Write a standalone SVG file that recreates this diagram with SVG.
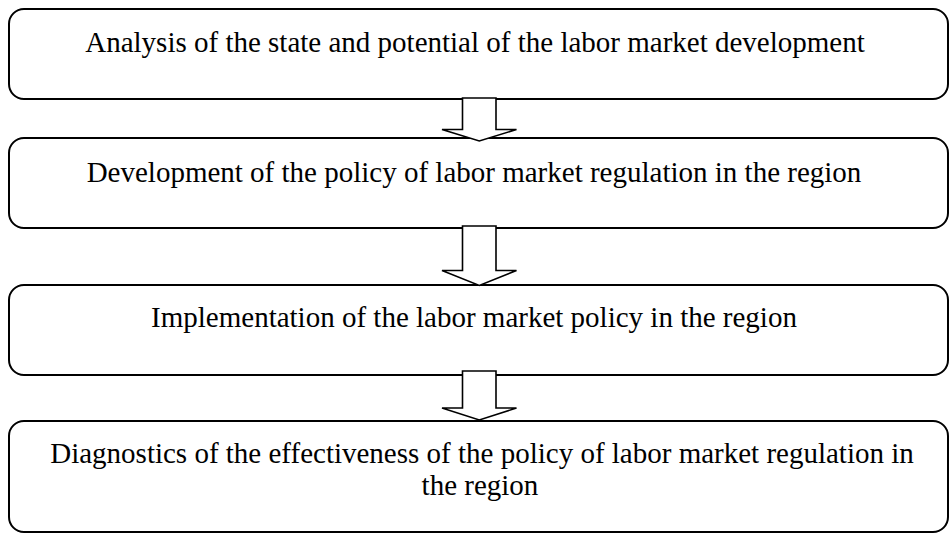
<svg xmlns="http://www.w3.org/2000/svg" width="949" height="533" viewBox="0 0 949 533">
<style>
.box{fill:#fff;stroke:#000;stroke-width:2}
.arr{fill:#fff;stroke:#000;stroke-width:1.6;stroke-linejoin:miter}
text{font-family:"Liberation Serif","Times New Roman",serif;font-size:29px;fill:#000;text-anchor:middle}
</style>
<rect width="949" height="533" fill="#fff"/>
<g id="n1"><rect class="box" x="9" y="9" width="939" height="90" rx="15" ry="15"/><text x="475" y="52">Analysis of the state and potential of the labor market development</text></g>
<g id="n2"><rect class="box" x="9" y="138" width="939" height="90" rx="15" ry="15"/><text x="474" y="182">Development of the policy of labor market regulation in the region</text></g>
<g id="n3"><rect class="box" x="9" y="285" width="939" height="90" rx="15" ry="15"/><text x="474" y="327">Implementation of the labor market policy in the region</text></g>
<g id="n4"><rect class="box" x="9" y="421" width="939" height="111" rx="15" ry="15"/><text x="482" y="463">Diagnostics of the effectiveness of the policy of labor market regulation in</text><text x="480" y="495">the region</text></g>
<g id="connectors">
<path class="arr" d="M462.5 98 H496 V129.5 H516.5 L479.3 141 L442 129.5 H462.5 Z"/>
<path class="arr" d="M462.5 226 H496 V270.5 H516.5 L479.3 285.5 L442 270.5 H462.5 Z"/>
<path class="arr" d="M462.5 371 H496 V408 H516.5 L479.3 420 L442 408 H462.5 Z"/>
</g>
</svg>
